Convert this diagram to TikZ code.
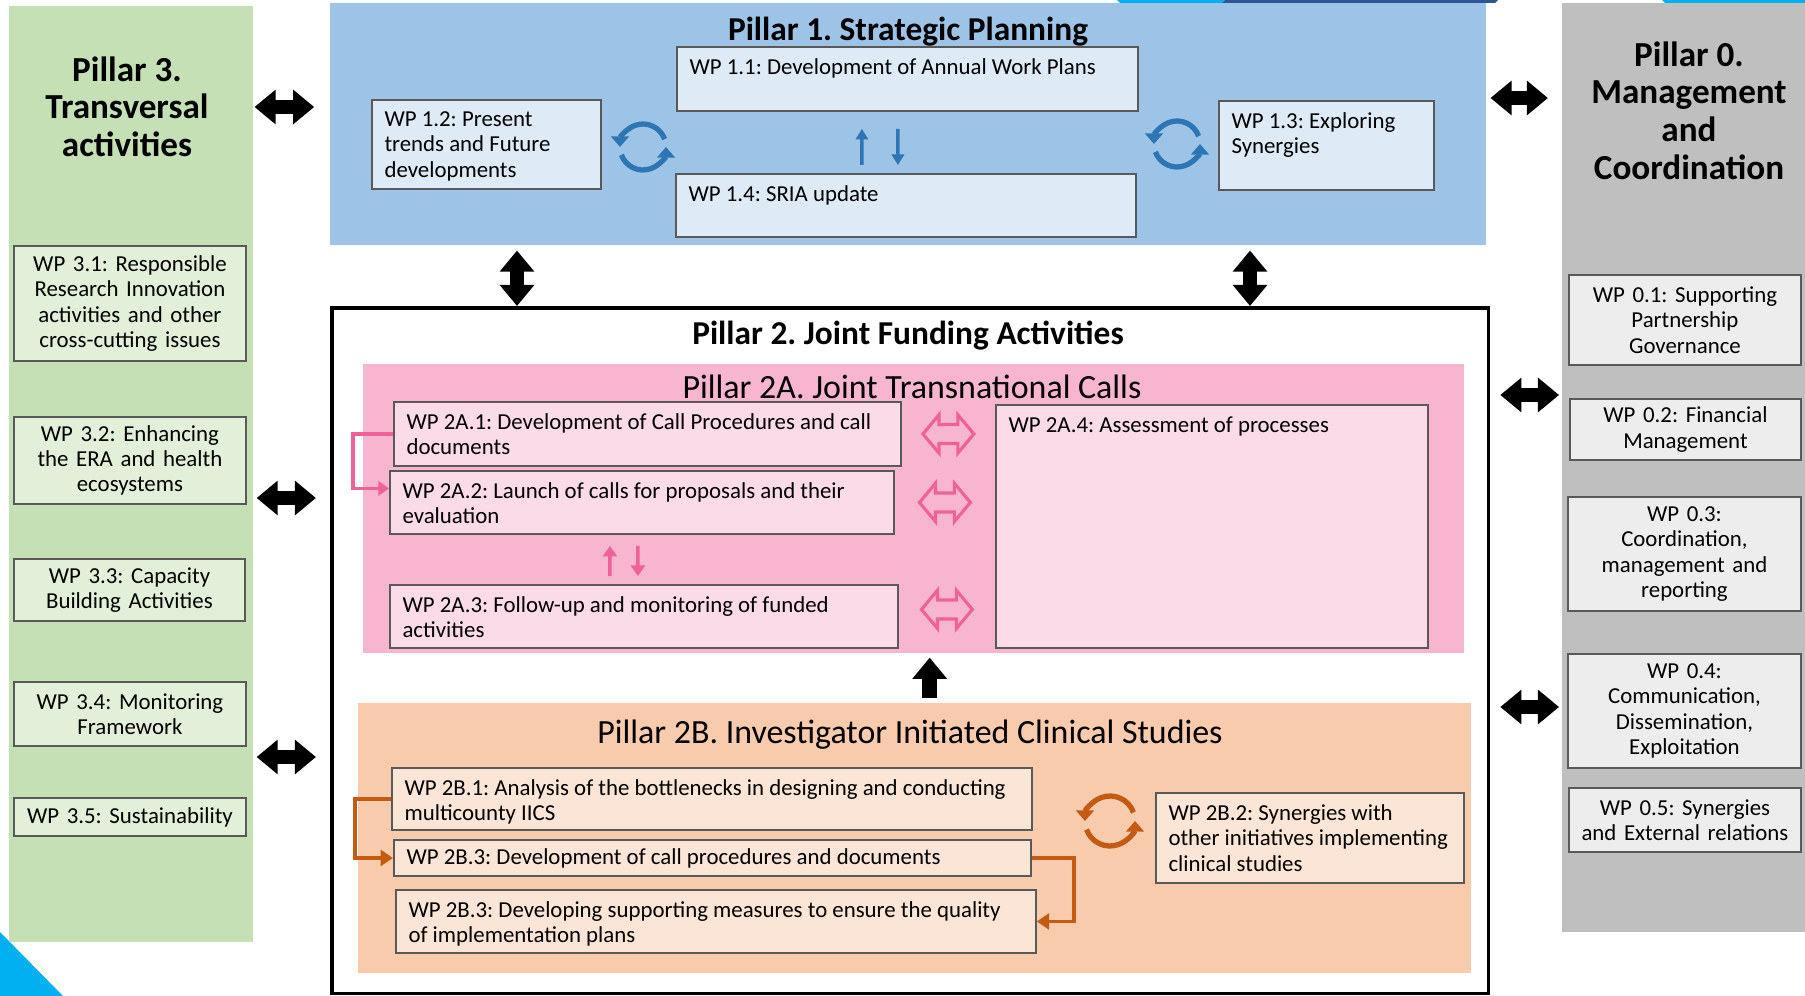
\documentclass[tikz,border=0pt]{standalone}
\usepackage{fontspec}
\setmainfont{Carlito}
\usetikzlibrary{arrows.meta,positioning,calc,shapes.arrows}

\definecolor{greenpanel}{HTML}{C5E0B4}
\definecolor{greenbox}{HTML}{E2F0D9}
\definecolor{bluepanel}{HTML}{9DC3E6}
\definecolor{bluebox}{HTML}{DEEBF7}
\definecolor{graypanel}{HTML}{BFBFBF}
\definecolor{graybox}{HTML}{EDEDED}
\definecolor{pinkpanel}{HTML}{F7B5CF}
\definecolor{pinkbox}{HTML}{FADBE7}
\definecolor{orangepanel}{HTML}{F8CBAD}
\definecolor{orangebox}{HTML}{FBE5D6}
\definecolor{boxline}{HTML}{595959}
\definecolor{syncblue}{HTML}{2E75B6}
\definecolor{syncpink}{HTML}{EE6299}
\definecolor{syncorange}{HTML}{C55A11}
\definecolor{bandcyan}{HTML}{00B0F0}
\definecolor{banddark}{HTML}{2F5597}

\newcommand{\wpfont}{\fontsize{13}{14.4}\selectfont}

\begin{document}
\frenchspacing
\begin{tikzpicture}[x=0.02cm, y=0.02cm,
    panel/.style={anchor=north west, inner sep=0pt},
    wpc/.style={draw=boxline, line width=1.1pt, anchor=north west, align=center, inner sep=1pt, font=\wpfont},
    wpl/.style={draw=boxline, line width=1.1pt, anchor=north west, inner sep=0pt},
    wptext/.style={anchor=north west, align=left, inner xsep=7.5pt, inner ysep=7pt, font=\wpfont},
    p3box/.style={wpc, fill=greenbox, text width=4.4cm},
    p0box/.style={wpc, fill=graybox, text width=4.4cm},
    p1box/.style={wpl, fill=bluebox},
    p2abox/.style={wpl, fill=pinkbox},
    p2bbox/.style={wpl, fill=orangebox},
    pillartitle/.style={font=\fontsize{20}{21.4}\selectfont\bfseries, align=center},
    subtitle/.style={font=\fontsize{19.3}{22}\selectfont, anchor=base},
    bigdbl/.style={line width=8.5pt, {Triangle[width=19pt,length=12pt]}-{Triangle[width=19pt,length=12pt]}},
    bigarr/.style={line width=8.5pt, -{Triangle[width=19pt,length=12pt]}},
    thinarr/.style={line width=2pt, -{Triangle[width=7pt,length=6pt]}},
    pinkelbow/.style={draw=syncpink, line width=2pt, -{Triangle[width=8pt,length=6pt]}},
    orelbow/.style={draw=syncorange, line width=2.2pt, -{Triangle[width=9pt,length=7pt]}},
    sync/.style={line width=3pt, -{Triangle[width=10pt,length=6pt]}},
    pinkdbl/.style={double arrow, draw=syncpink, line width=1.8pt, inner sep=4.5pt, minimum height=29pt, double arrow head extend=5.5pt, double arrow tip angle=100},
]

\fill[white] (0,0) rectangle (1805,-996);
\useasboundingbox (0,0) rectangle (1805,-996);

% Corner bands
\fill[bandcyan] (1117,0) -- (1225,0) -- (1222,-3) -- (1120,-3) -- cycle;
\fill[banddark] (1225,0) -- (1498,0) -- (1495,-3) -- (1222,-3) -- cycle;
\fill[bandcyan] (1662,0) -- (1805,0) -- (1805,-3) -- (1665,-3) -- cycle;
\fill[bandcyan] (0,-932) -- (63,-996) -- (0,-996) -- cycle;

% Panels
\node[panel, fill=greenpanel, minimum width=4.88cm, minimum height=18.72cm] (p3) at (9,-6) {};
\node[panel, fill=bluepanel, minimum width=23.12cm, minimum height=4.84cm] (p1) at (330,-3) {};
\node[panel, fill=graypanel, minimum width=4.86cm, minimum height=18.58cm] (p0) at (1562,-3) {};
\node[panel, draw=black, line width=2pt, fill=white, minimum width=23.14cm, minimum height=13.72cm] (p2) at (330,-306) {};
\node[panel, fill=pinkpanel, minimum width=22.02cm, minimum height=5.78cm] (p2a) at (363,-364) {};
\node[panel, fill=orangepanel, minimum width=22.26cm, minimum height=5.4cm] (p2b) at (358,-703) {};

% Titles
\node[pillartitle] (p3title) at (127,-106.5) {Pillar 3.\\ Transversal\\ activities};
\node[pillartitle] (p0title) at (1689,-110.5) {Pillar 0.\\ Management\\ and\\ Coordination};
\node[subtitle, font=\fontsize{19}{22}\selectfont\bfseries] (p1title) at (908,-40.5) {Pillar 1. Strategic Planning};
\node[subtitle, font=\fontsize{19}{22}\selectfont\bfseries] (p2title) at (908,-344.5) {Pillar 2. Joint Funding Activities};
\node[subtitle] (p2atitle) at (912,-398.5) {Pillar 2A. Joint Transnational Calls};
\node[subtitle] (p2btitle) at (910,-743.5) {Pillar 2B. Investigator Initiated Clinical Studies};

% Pillar 3 work packages
\node[p3box, minimum width=4.64cm, minimum height=2.3cm] (w31) at (13,-245) {WP 3.1: Responsible\\ Research Innovation\\ activities and other\\ cross-cutting issues};
\node[p3box, minimum width=4.64cm, minimum height=1.74cm] (w32) at (13,-416) {WP 3.2: Enhancing\\ the ERA and health\\ ecosystems};
\node[p3box, minimum width=4.62cm, minimum height=1.24cm] (w33) at (13,-558) {WP 3.3: Capacity\\ Building Activities};
\node[p3box, minimum width=4.64cm, minimum height=1.28cm] (w34) at (13,-681) {WP 3.4: Monitoring\\ Framework};
\node[p3box, minimum width=4.64cm, minimum height=0.76cm] (w35) at (13,-797) {WP 3.5: Sustainability};

% Pillar 0 work packages
\node[p0box, minimum width=4.64cm, minimum height=1.8cm] (w01) at (1568,-274) {WP 0.1: Supporting\\ Partnership\\ Governance};
\node[p0box, minimum width=4.62cm, minimum height=1.22cm] (w02) at (1569,-398) {WP 0.2: Financial\\ Management};
\node[p0box, minimum width=4.66cm, minimum height=2.28cm] (w03) at (1567,-496) {WP 0.3:\\ Coordination,\\ management and\\ reporting};
\node[p0box, minimum width=4.66cm, minimum height=2.28cm] (w04) at (1567,-653) {WP 0.4:\\ Communication,\\ Dissemination,\\ Exploitation};
\node[p0box, minimum width=4.64cm, minimum height=1.28cm] (w05) at (1568,-787) {WP 0.5: Synergies\\ and External relations};

% Pillar 1 work packages
\node[p1box, minimum width=9.22cm, minimum height=1.28cm, label={[wptext]north west:{WP 1.1: Development of Annual Work Plans}}] (w11) at (676,-46) {};
\node[p1box, minimum width=4.58cm, minimum height=1.78cm, label={[wptext]north west:{WP 1.2: Present\\ trends and Future\\ developments}}] (w12) at (371,-99) {};
\node[p1box, minimum width=4.3cm, minimum height=1.78cm, label={[wptext]north west:{WP 1.3: Exploring\\ Synergies}}] (w13) at (1218,-100) {};
\node[p1box, minimum width=9.2cm, minimum height=1.26cm, label={[wptext]north west:{WP 1.4: SRIA update}}] (w14) at (675,-173) {};

% Pillar 2A work packages
\node[p2abox, minimum width=10.14cm, minimum height=1.28cm, label={[wptext]north west:{WP 2A.1: Development of Call Procedures and call\\ documents}}] (w2a1) at (393,-401) {};
\node[p2abox, minimum width=10.08cm, minimum height=1.26cm, label={[wptext]north west:{WP 2A.2: Launch of calls for proposals and their\\ evaluation}}] (w2a2) at (389,-470) {};
\node[p2abox, minimum width=10.16cm, minimum height=1.26cm, label={[wptext]north west:{WP 2A.3: Follow-up and monitoring of funded\\ activities}}] (w2a3) at (389,-584) {};
\node[p2abox, minimum width=8.64cm, minimum height=4.86cm, label={[wptext]north west:{WP 2A.4: Assessment of processes}}] (w2a4) at (995,-404) {};

% Pillar 2B work packages
\node[p2bbox, minimum width=12.8cm, minimum height=1.24cm, label={[wptext]north west:{WP 2B.1: Analysis of the bottlenecks in designing and conducting\\ multicounty IICS}}] (w2b1) at (391,-767) {};
\node[p2bbox, minimum width=12.74cm, minimum height=0.72cm, label={[wptext, inner ysep=5.5pt]north west:{WP 2B.3: Development of call procedures and documents}}] (w2b3a) at (393,-839) {};
\node[p2bbox, minimum width=12.8cm, minimum height=1.26cm, label={[wptext]north west:{WP 2B.3: Developing supporting measures to ensure the quality\\ of implementation plans}}] (w2b3b) at (395,-889) {};
\node[p2bbox, minimum width=6.16cm, minimum height=1.8cm, label={[wptext]north west:{WP 2B.2: Synergies with\\ other initiatives implementing\\ clinical studies}}] (w2b2) at (1155,-792) {};

% Links between pillars
\draw[bigdbl, shorten <=0.5pt, shorten >=9pt] (p3.east |- 0,-107) -- (p1.west |- 0,-107);
\draw[bigdbl, shorten <=1.7pt, shorten >=8pt] (p3.east |- 0,-498) -- (p2.west |- 0,-498);
\draw[bigdbl, shorten <=1.7pt, shorten >=8pt] (p3.east |- 0,-757) -- (p2.west |- 0,-757);
\draw[bigdbl, shorten <=2.3pt, shorten >=8pt] (p1.east |- 0,-98) -- (p0.west |- 0,-98);
\draw[bigdbl, shorten <=5.7pt, shorten >=1.7pt] (p2.east |- 0,-395) -- (p0.west |- 0,-395);
\draw[bigdbl, shorten <=5.7pt, shorten >=1.7pt] (p2.east |- 0,-707) -- (p0.west |- 0,-707);
\draw[bigdbl, shorten <=2.8pt] (517,0 |- p1.south) -- (517,0 |- p2.north);
\draw[bigdbl, shorten <=2.8pt] (1250,0 |- p1.south) -- (1250,0 |- p2.north);
\draw[bigarr, shorten <=2.8pt, shorten >=2.3pt] ([xshift=8.5pt]p2b.north) -- ([xshift=8.5pt]p2b.north |- p2a.south);

% Pillar 1 links
\draw[thinarr, syncblue] ($(w14.north)+(-44,8)$) -- ($(w11.south)+(-45.5,-17)$);
\draw[thinarr, syncblue] ($(w11.south)+(-9.5,-17)$) -- ($(w14.north)+(-8,8)$);
\coordinate (synca) at (643,-147);
\coordinate (syncb) at (1177,-144);
\draw[sync, syncblue] ($(synca)+(20:23)$) arc[start angle=20, end angle=180, radius=23];
\draw[sync, syncblue] ($(synca)+(200:23)$) arc[start angle=200, end angle=360, radius=23];
\draw[sync, syncblue] ($(syncb)+(20:23)$) arc[start angle=20, end angle=180, radius=23];
\draw[sync, syncblue] ($(syncb)+(200:23)$) arc[start angle=200, end angle=360, radius=23];

% Pillar 2A links
\draw[pinkelbow] (w2a1.west) -- ++(-40,0) |- ([yshift=8pt]w2a2.west);
\draw[pinkelbow] ($(w2a3.north)+(-34,8)$) -- ($(w2a2.south)+(-32,-11)$);
\draw[pinkelbow] ($(w2a2.south)+(-4,-11)$) -- ($(w2a3.north)+(-6,8)$);
\node[pinkdbl] (dbla) at ($(w2a1.east)!0.5!(w2a4.west |- w2a1.east)$) {};
\node[pinkdbl] (dblb) at ($(w2a2.east)!0.5!(w2a4.west |- w2a2.east)$) {};
\node[pinkdbl, yshift=4pt] (dblc) at ($(w2a3.east)!0.5!(w2a4.west |- w2a3.east)$) {};

% Pillar 2B links
\draw[orelbow] (w2b1.west) -- ++(-36,0) |- (w2b3a.west);
\draw[orelbow] (w2b3a.east) -- ++(42,0) |- (w2b3b.east);
\coordinate (syncc) at (1110,-821);
\draw[sync, syncorange] ($(syncc)+(20:25)$) arc[start angle=20, end angle=180, radius=25];
\draw[sync, syncorange] ($(syncc)+(200:25)$) arc[start angle=200, end angle=360, radius=25];

\end{tikzpicture}
\end{document}
